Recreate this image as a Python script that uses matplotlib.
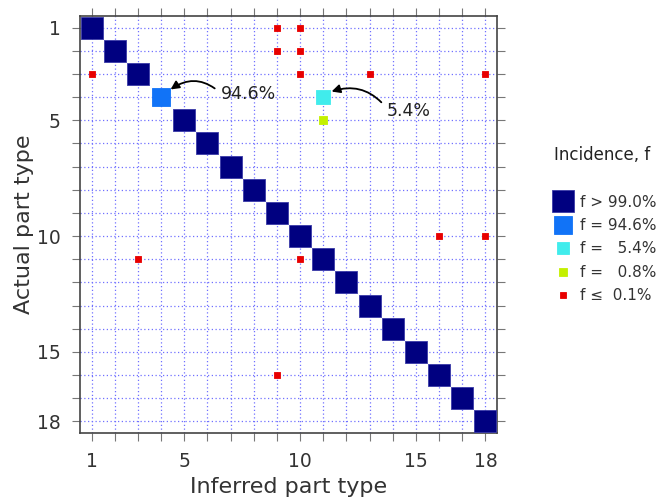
import matplotlib
matplotlib.use('Agg')
import matplotlib.pyplot as plt
from matplotlib.lines import Line2D

# confusion of part types: (inferred, actual) pairs grouped by incidence class
diag_parts = [1, 2, 3, 5, 6, 7, 8, 9, 10, 11, 12, 13, 14, 15, 16, 17, 18]
blue_inferred, blue_actual = [4], [4]
cyan_inferred, cyan_actual = [11], [4]
lime_inferred, lime_actual = [11], [5]
red_inferred = [9, 10, 9, 10, 1, 10, 13, 18, 16, 18, 3, 10, 9]
red_actual = [1, 1, 2, 2, 3, 3, 3, 3, 10, 10, 11, 11, 16]

legend_labels = ['f > 99.0%', 'f = 94.6%', 'f =   5.4%', 'f =   0.8%', 'f \u2264  0.1%']
tick_labels = {1: '1', 5: '5', 10: '10', 15: '15', 18: '18'}

colors = ['#000080', '#1173f7', '#40ecec', '#c4f000', '#e80000']
sizes = [255, 150, 90, 34, 20]

fig = plt.figure(figsize=(6.56, 5.0), dpi=100)
ax = fig.add_axes([80 / 656, 1 - 433 / 500, 417 / 656, 417 / 500])

groups = [
    (diag_parts, diag_parts),
    (blue_inferred, blue_actual),
    (cyan_inferred, cyan_actual),
    (lime_inferred, lime_actual),
    (red_inferred, red_actual),
]
for (xs, ys), c, s in zip(groups, colors, sizes):
    ax.scatter(xs, ys, marker='s', s=s, c=c, edgecolors='#3a3aa8' if c == '#000080' else c,
               linewidths=0.6, zorder=3)

ax.set_xlim(0.5, 18.5)
ax.set_ylim(18.5, 0.5)
ticks = list(range(1, 19))
ax.set_xticks(ticks)
ax.set_yticks(ticks)
ax.set_xticklabels([tick_labels.get(t, '') for t in ticks])
ax.set_yticklabels([tick_labels.get(t, '') for t in ticks])
ax.tick_params(direction='out', length=6, width=0.8, color='#777777',
               labelsize=13.5, labelcolor='#333333', top=True, right=True, pad=8)
ax.grid(True, color='#7070ff', linestyle=(0, (1, 2)), linewidth=0.9, zorder=1)
ax.set_axisbelow(True)
for sp in ax.spines.values():
    sp.set_color('#444444')
    sp.set_linewidth(1.2)

ax.set_xlabel('Inferred part type', fontsize=16, color='#333333', labelpad=4)
ax.set_ylabel('Actual part type', fontsize=16, color='#333333', labelpad=2)

# arrows leave from the left side of each label
ax.annotate('94.6%', xy=(4.41, 3.67), xytext=(7.77, 3.88), fontsize=12.5,
            color='#222222', ha='center', va='center',
            arrowprops=dict(arrowstyle='-|>', color='black', lw=1.3, relpos=(0, 0.55),
                            connectionstyle='arc3,rad=0.4', shrinkA=3, shrinkB=0))
ax.annotate('5.4%', xy=(11.36, 3.76), xytext=(14.7, 4.58), fontsize=12.5,
            color='#222222', ha='center', va='center',
            arrowprops=dict(arrowstyle='-|>', color='black', lw=1.3, relpos=(0, 0.6),
                            connectionstyle='arc3,rad=0.35', shrinkA=3, shrinkB=0))

legend_sizes = [16, 12.5, 8, 5.5, 4]
handles = [Line2D([], [], marker='s', linestyle='none', markersize=ms, markerfacecolor=c,
                  markeredgecolor='#3a3aa8' if c == '#000080' else c, markeredgewidth=0.6)
           for c, ms in zip(colors, legend_sizes)]
leg = fig.legend(handles, legend_labels, title='Incidence, f', loc='upper left',
                 bbox_to_anchor=(548 / 656, 1 - 140 / 500), frameon=False,
                 fontsize=11, title_fontsize=12, labelspacing=0.55,
                 handletextpad=0.5, handlelength=1.2, borderaxespad=0)
leg._legend_box.sep = 22
leg._legend_box.align = 'left'
for t in leg.get_texts():
    t.set_color('#333333')
leg.get_title().set_color('#222222')

fig.savefig('out.png', dpi=100)
